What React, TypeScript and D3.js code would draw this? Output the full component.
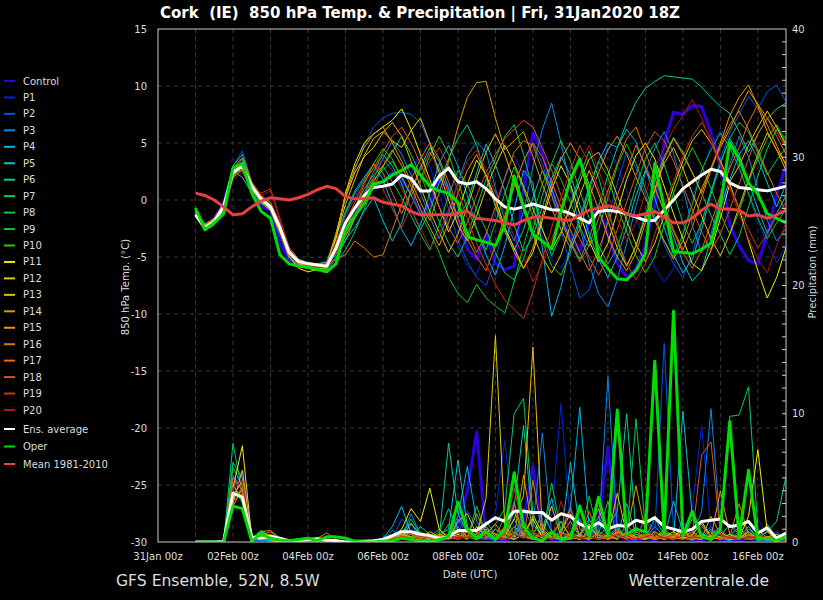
import React from "react";
import * as d3 from "d3";

// GFS ensemble plume for Cork: 850 hPa temperature (left axis) and 6-hourly precipitation (right axis)
const W = 823;
const H = 600;
const PLOT = { left: 158, right: 786, top: 29, bottom: 542 };

const axisStart = new Date(Date.UTC(2020, 0, 31, 0));
const axisEnd = new Date(Date.UTC(2020, 1, 16, 18));
const firstStep = Date.UTC(2020, 1, 1, 0);
const STEP_MS = 6 * 3600 * 1000;

const memberNames = ["Control", "P1", "P2", "P3", "P4", "P5", "P6", "P7", "P8", "P9", "P10",
  "P11", "P12", "P13", "P14", "P15", "P16", "P17", "P18", "P19", "P20"];
const memberColors = ["#2e00e0", "#0022dd", "#0052ee", "#0a88e8", "#00b4ee", "#00c4cc", "#00cc99",
  "#00cc66", "#00cc44", "#00cc22", "#22cc00", "#eeee00", "#e2cc00", "#eebb00", "#d99a00",
  "#f29400", "#dd7700", "#ee6a00", "#dd5522", "#c83218", "#b41414"];
const avgColor = "#ffffff";
const operColor = "#00dd00";
const meanColor = "#e84040";

const tempTicks = [-30, -25, -20, -15, -10, -5, 0, 5, 10, 15];
const precipTicks = [0, 10, 20, 30, 40];

// 850 hPa temperature (°C), 6-hourly from 01Feb 00z
const tempControl = [
  -1.0, -2.4, -1.6, -0.3, 2.6, 3.5, 1.0, -0.6, -0.9, -3.8, -5.3, -5.6, -5.7, -5.9, -6.0, -4.0,
  -2.0, -0.8, 0.5, 1.3, 1.6, 2.4, 1.8, 0.6, -1.2, -0.4, 2.0, 1.2, -2.0, -4.3, -5.2, -3.0,
  -5.6, -6.1, -5.8, 1.0, 5.9, 4.2, 1.0, -1.5, -3.2, -4.5, -2.0, -0.5, -3.0, -5.5, -6.8, -6.0,
  -4.0, -0.5, 5.0, 7.7, 7.5, 8.3, 8.2, 5.9, 3.4, -2.2, -4.0, -5.3, -5.6, -3.0, 0.5, 3.0];
const tempP1 = [
  -1.1, -2.2, -1.7, -0.4, 2.7, 3.4, 1.4, 0.0, -0.8, -2.8, -4.9, -5.6, -5.7, -5.9, -5.7, -3.6,
  -1.5, 0.4, 1.6, 2.8, 3.5, 2.6, 1.2, 2.4, 4.1, 3.0, 0.5, -2.2, -4.0, -5.8, -6.5, -4.2,
  -1.0, 1.8, 3.9, 2.2, -0.6, -3.1, -5.2, -6.0, -4.4, -1.8, 0.6, 2.9, 4.6, 3.1, 0.8, -1.7,
  -3.5, -5.9, -7.2, -6.0, -3.1, 0.2, 2.5, 4.8, 6.1, 5.2, 3.0, 0.4, -1.9, -3.8, -5.5, -4.1];
const tempP2 = [
  -1.3, -2.5, -1.8, -0.2, 3.0, 4.3, 1.6, -0.2, -1.0, -3.2, -5.2, -5.7, -5.6, -5.8, -5.5, -3.0,
  0.2, 2.6, 4.8, 6.4, 7.2, 7.6, 7.7, 7.5, 6.8, 4.9, 2.0, -0.8, -3.5, -5.4, -6.8, -7.5,
  -5.2, -2.0, 1.2, 3.5, 5.0, 3.2, 0.4, -2.6, -5.8, -8.6, -7.9, -5.0, -1.6, 1.5, 4.2, 2.8,
  0.5, -1.6, -3.9, -5.6, -6.8, -4.7, -2.0, 0.8, 3.6, 5.9, 7.5, 9.1, 8.0, 9.5, 10.1, 8.6];
const tempP3 = [
  -1.0, -2.3, -2.0, -0.7, 2.2, 3.0, 1.1, 0.3, -0.4, -2.2, -4.5, -5.3, -5.5, -5.6, -5.9, -4.5,
  -2.8, -1.2, 0.5, 1.9, 3.6, 5.2, 4.0, 2.2, 0.6, -1.5, -3.4, -1.2, 1.6, 3.9, 5.1, 4.2,
  1.0, -1.8, -3.6, -1.0, 2.9, 6.2, 8.5, 5.0, 1.2, -2.4, -5.6, -8.2, -9.4, -7.0, -3.8, -0.5,
  2.4, 4.5, 6.0, 4.1, 1.0, -2.2, -4.6, -3.0, 0.2, 3.1, 5.6, 3.8, 0.9, -1.8, -3.6, -2.5];
const tempP4 = [
  -1.4, -2.6, -2.1, -0.8, 2.0, 2.6, 0.8, -0.1, -0.5, -2.0, -4.2, -5.2, -5.5, -5.6, -5.4, -3.2,
  -1.0, 0.8, 2.0, 3.1, 1.8, -0.4, -2.6, -4.0, -2.2, 0.6, 3.2, 4.8, 3.0, 0.4, -2.5, -4.8,
  -6.6, -4.0, -0.8, 2.6, 1.5, -4.2, -10.2, -7.6, -4.0, -1.6, 1.2, 3.4, 5.0, 4.6, 6.2, 5.1,
  2.8, 0.2, -2.4, -4.8, -6.4, -5.2, -2.6, 0.5, 3.2, 5.4, 4.0, 1.6, -0.8, -2.9, -1.2, 0.4];
const tempP5 = [
  -1.2, -2.3, -1.8, -0.5, 2.5, 2.0, 0.6, -0.3, -0.9, -2.6, -4.8, -5.5, -5.7, -5.8, -5.6, -4.8,
  -3.5, -2.4, -1.0, 0.2, -1.8, -3.6, -2.0, 0.8, 2.9, 4.6, 3.4, 1.0, -1.6, -0.2, 2.4, 4.9,
  3.1, 0.8, -2.2, -4.5, -3.2, -0.6, 1.9, 3.8, 2.2, -0.4, -3.0, -5.2, -6.8, -5.0, -2.4, 0.4,
  2.6, 1.2, -1.0, -3.2, -5.5, -7.1, -6.2, -3.4, -0.8, 1.8, 4.0, 5.2, 3.6, 1.5, -0.6, 1.4];
const tempP6 = [
  -0.9, -2.1, -1.6, -0.3, 3.0, 4.0, 1.5, 0.2, -0.5, -2.3, -4.4, -5.3, -5.6, -5.9, -6.0, -5.0,
  -3.6, -1.6, 0.6, 2.5, 4.0, 3.0, 1.4, -0.8, -2.6, -1.0, 1.5, 3.6, 5.4, 6.6, 4.8, 2.0,
  -0.6, -2.8, -4.4, -2.6, 0.2, 2.6, 1.0, -1.4, -3.6, -5.2, -3.4, -0.6, 2.2, 4.6, 6.8, 8.6,
  9.8, 10.4, 10.9, 10.8, 10.7, 10.6, 9.9, 9.0, 8.2, 7.6, 6.0, 4.2, 5.8, 7.1, 8.0, 8.5];
const tempP7 = [
  -1.3, -2.7, -2.2, -0.9, 2.1, 2.8, 1.0, -0.2, -0.7, -2.5, -4.7, -5.6, -5.8, -6.0, -6.2, -5.5,
  -4.4, -2.8, -0.8, 1.2, 2.9, 4.2, 5.6, 4.0, 2.2, 0.2, -1.9, -3.8, -5.0, -3.2, -0.6, 1.8,
  3.6, 5.6, 6.6, 4.0, 0.8, -2.5, -4.9, -3.0, -0.4, 2.1, 4.3, 2.0, -0.9, -3.6, -5.8, -4.0,
  -1.2, 1.6, 3.8, 5.5, 4.2, 2.4, 0.6, -1.4, -3.0, -4.8, -3.2, -0.6, 2.1, 4.5, 6.2, 5.4];
const tempP8 = [
  -1.1, -2.4, -1.8, -0.5, 2.6, 3.3, 1.3, 0.1, -0.6, -2.5, -4.6, -5.4, -5.6, -5.8, -5.9, -4.0,
  -2.2, -0.6, 1.0, 2.2, 3.0, 1.6, 0.2, -1.4, -3.0, -4.4, -2.2, 0.4, 2.6, 1.4, -0.9, -2.6,
  -4.6, -6.4, -7.0, -5.2, -2.6, 0.4, 3.2, 5.2, 3.4, 0.8, -1.6, -4.0, -5.6, -4.2, -1.5, 1.2,
  3.6, 5.0, 3.1, 0.6, -2.0, -3.8, -2.0, 0.8, 3.2, 5.4, 6.8, 6.0, 4.1, 2.2, 3.5, 4.6];
const tempP9 = [
  -1.2, -2.5, -2.0, -0.6, 2.3, 3.1, 1.2, 0.0, -0.7, -2.6, -4.8, -5.5, -5.7, -5.9, -6.1, -5.2,
  -3.0, -1.4, 0.2, 1.8, 2.6, 3.4, 2.0, 0.4, -1.2, -2.8, -4.6, -6.8, -8.2, -9.0, -7.4, -8.6,
  -9.3, -9.9, -7.2, -4.0, -1.2, 1.4, 3.2, 1.8, -0.2, -2.4, -4.1, -2.6, 0.2, 3.0, 4.9, 3.2,
  1.0, -1.4, -3.6, -5.0, -3.0, -0.4, 2.6, 4.4, 5.9, 4.6, 2.8, 0.6, -1.6, -3.4, -2.0, -0.8];
const tempP10 = [
  -1.0, -2.2, -1.7, -0.4, 2.8, 3.6, 1.5, 0.3, -0.4, -2.2, -4.4, -5.3, -5.6, -5.7, -5.8, -3.8,
  -1.2, 0.6, 1.8, 3.2, 4.5, 3.6, 2.0, 0.4, 1.8, 3.9, 5.6, 4.0, 1.6, -0.8, -2.6, -4.4,
  -2.0, 0.6, 2.9, 1.0, -1.5, -3.6, -5.8, -6.6, -4.6, -2.0, 0.9, 3.4, 2.0, -0.6, -2.8, -4.9,
  -6.4, -5.0, -2.2, 0.6, 2.8, 4.6, 3.0, 1.0, -1.2, -3.0, -1.0, 1.6, 3.6, 5.4, 6.6, 5.0];
const tempP11 = [
  -1.3, -2.6, -2.0, -0.6, 2.4, 3.2, 1.0, -0.1, -0.8, -2.8, -5.0, -6.0, -6.3, -6.1, -5.8, -3.4,
  0.6, 3.2, 5.0, 5.8, 6.4, 7.0, 8.0, 6.2, 4.0, 1.8, -0.6, -2.8, -1.0, 1.4, 3.5, 2.2,
  0.1, -2.4, -4.2, -6.0, -4.6, -1.8, 0.9, 3.0, 1.4, -1.2, -3.6, -5.4, -3.8, -1.0, 1.8, 3.9,
  5.0, 3.6, 1.2, -1.2, -3.4, -5.6, -6.2, -4.4, -1.6, 1.4, -0.8, -3.6, -6.2, -8.6, -6.8, -4.2];
const tempP12 = [
  -1.2, -2.4, -1.9, -0.7, 2.2, 2.9, 1.3, 0.2, -0.6, -2.4, -4.6, -5.5, -5.8, -6.0, -5.9, -3.2,
  -0.4, 1.8, 3.9, 5.4, 6.0, 5.2, 4.6, 6.1, 7.2, 5.0, 2.4, 0.0, -2.2, -3.6, -1.4, 1.0,
  3.0, 4.8, 3.2, 1.2, -0.8, -2.6, -4.4, -2.8, -0.6, 1.6, 3.6, 4.2, 2.6, 0.4, -1.8, -3.9,
  -5.4, -3.8, -1.4, 1.2, 3.4, 5.2, 6.2, 5.0, 3.4, 1.6, 3.0, 4.8, 6.4, 7.8, 6.4, 4.8];
const tempP13 = [
  -1.1, -2.3, -1.7, -0.5, 2.5, 3.1, 1.1, 0.0, -0.7, -2.6, -4.7, -5.6, -5.9, -5.9, -5.7, -2.9,
  0.2, 2.4, 3.8, 4.6, 5.9, 6.8, 5.6, 3.4, 1.2, -1.0, -2.8, -4.6, -3.0, -0.6, 1.9, 4.2,
  5.8, 4.0, 1.6, -0.8, -3.0, -5.0, -6.4, -4.8, -2.2, 0.4, 2.6, 0.6, -1.8, -4.2, -5.8, -4.0,
  -1.6, 1.0, 3.2, 4.6, 2.8, 0.6, -1.4, -3.4, -4.9, -3.0, -0.6, 1.8, 4.0, 5.9, 4.4, 2.6];
const tempP14 = [
  -1.4, -2.7, -2.1, -0.8, 2.0, 2.7, 0.9, -0.2, -0.9, -2.9, -5.0, -5.8, -6.0, -6.2, -6.0, -3.0,
  0.4, 2.8, 4.6, 5.8, 6.4, 5.0, 3.4, 1.6, -0.2, -1.8, 0.6, 3.4, 6.4, 9.0, 10.3, 10.4,
  7.2, 4.4, 5.2, 6.0, 3.8, 1.4, -0.8, -2.6, -4.2, -2.6, 0.2, 2.4, 4.4, 5.6, 4.0, 2.0,
  0.2, -1.8, -3.6, -5.2, -3.6, -1.2, 1.0, 2.8, 4.6, 6.2, 8.0, 9.6, 8.4, 6.6, 4.8, 3.0];
const tempP15 = [
  -1.2, -2.5, -1.8, -0.5, 2.6, 3.3, 1.2, 0.1, -0.5, -2.3, -4.5, -5.4, -5.6, -5.7, -5.8, -4.6,
  -3.2, -1.6, 0.2, 1.6, 3.0, 4.4, 3.0, 1.2, -0.8, -2.4, -4.0, -2.0, 0.6, 2.6, 4.0, 2.2,
  -0.4, -2.6, -4.6, -6.0, -4.2, -1.4, 1.4, 3.6, 5.0, 3.6, 1.4, -0.8, -3.2, -5.0, -6.2, -4.6,
  -2.0, 0.8, 3.6, 5.4, 4.0, 2.4, 0.6, 2.8, 5.0, 7.4, 9.0, 10.1, 8.2, 6.0, 4.4, 3.2];
const tempP16 = [
  -1.0, -2.2, -1.6, -0.3, 2.8, 3.7, 1.6, 0.4, -0.2, -2.0, -4.2, -5.2, -5.5, -5.6, -5.5, -5.2,
  -4.8, -3.6, -4.2, -5.0, -4.8, -2.6, -0.4, 1.8, 3.6, 5.0, 3.6, 1.6, -0.6, -2.8, -4.6, -3.0,
  -0.6, 2.0, 4.2, 5.2, 4.8, 2.6, 0.4, -1.8, -3.8, -5.4, -4.0, -1.6, 0.8, 3.2, 5.4, 6.4,
  4.2, 2.0, -0.4, -2.6, -4.4, -2.4, 0.2, 2.6, 4.8, 6.6, 7.8, 6.2, 4.4, 2.4, 0.6, -1.0];
const tempP17 = [
  -1.3, -2.6, -2.0, -0.6, 2.3, 3.0, 1.0, -0.1, -0.7, -2.7, -4.9, -5.7, -5.8, -5.9, -5.9, -4.4,
  -2.6, -0.8, 1.4, 3.2, 2.4, 0.6, -1.2, 0.8, 2.6, 4.2, 2.8, 0.6, -1.6, -3.4, -5.0, -6.2,
  -4.0, -1.4, 1.2, 3.4, 5.0, 3.8, 1.6, -0.6, -2.6, -4.6, -6.2, -4.4, -2.0, 0.4, 2.6, 4.8,
  3.0, 1.0, -1.0, -2.8, -4.6, -6.0, -4.4, -2.0, 0.4, 2.8, 4.6, 6.8, 8.4, 7.2, 5.6, 4.0];
const tempP18 = [
  -1.1, -2.3, -1.8, -0.5, 2.5, 3.2, 1.3, 0.3, -0.2, -2.1, -4.4, -5.4, -5.7, -5.8, -5.6, -3.8,
  -2.0, -0.2, 1.6, 2.8, 4.2, 5.6, 6.4, 5.0, 3.2, 1.4, -0.6, -2.4, -3.8, -2.0, 0.4, 2.4,
  4.0, 5.4, 6.2, 7.0, 6.4, 4.6, 2.6, 0.4, -1.8, -3.4, -5.0, -6.6, -5.0, -2.6, -0.2, 2.2,
  4.6, 6.0, 5.2, 3.4, 1.2, -0.8, -2.8, -4.4, -3.0, -0.8, 1.4, 3.6, 5.8, 7.2, 6.0, 4.6];
const tempP19 = [
  -1.2, -2.4, -2.0, -0.8, 2.1, 2.6, 1.2, 0.6, 1.0, -1.6, -4.2, -5.4, -5.8, -6.0, -5.8, -4.6,
  -3.0, -1.4, 0.6, 2.0, 1.0, -0.8, -2.4, -0.6, 1.6, 3.4, 4.6, 3.0, 0.8, -1.6, -3.8, -5.6,
  -7.4, -8.8, -9.6, -10.4, -8.0, -5.2, -2.4, 0.2, 2.6, 4.8, 3.2, 1.0, -1.2, -3.4, -5.6, -7.0,
  -5.6, -3.0, -0.6, 1.6, 3.8, 5.6, 6.8, 5.4, 3.2, 1.2, -0.8, -2.6, -4.2, -3.0, -1.4, -0.2];
const tempP20 = [
  -1.3, -2.5, -2.1, -0.9, 1.8, 2.4, 1.0, 0.4, 0.8, -1.8, -4.4, -5.5, -5.7, -5.9, -5.8, -3.6,
  -1.4, 0.2, 1.4, 2.4, 3.6, 2.6, 1.0, -0.8, -2.4, -4.2, -3.0, -0.8, 1.4, 3.4, 4.4, 2.6,
  0.6, -1.2, -3.2, -5.0, -7.2, -5.6, -3.4, -1.0, 1.4, 3.2, 4.8, 2.6, 0.4, -1.6, -3.6, -2.0,
  0.6, 2.8, 4.6, 6.2, 7.4, 8.8, 7.2, 5.0, 3.0, 1.0, -1.2, -3.4, -5.2, -6.4, -4.0, -2.0];
const tempOper = [
  -0.7, -2.6, -2.0, -1.2, 2.8, 3.2, 0.6, -1.0, -1.6, -4.8, -5.6, -5.8, -5.9, -6.1, -6.3, -5.6,
  -2.6, -1.4, -0.3, 1.4, 1.6, 2.2, 2.6, 3.1, 2.2, 1.2, 0.8, 0.6, -0.2, -3.2, -3.5, -3.7,
  -4.0, -2.2, 2.1, -0.6, -3.0, -3.6, -4.3, -1.0, 1.8, 3.6, 0.6, -5.0, -6.0, -6.9, -7.0, -6.2,
  -4.7, 3.2, -0.6, -4.5, -4.6, -4.7, -4.3, -3.8, -0.5, 5.0, 3.6, 1.5, 0.5, -1.2, -1.6, -2.0];
const tempAverage = [
  -1.3, -2.4, -1.9, -0.6, 2.4, 3.0, 1.2, 0.1, -0.6, -2.4, -4.6, -5.4, -5.6, -5.7, -5.8, -4.2,
  -2.0, -0.7, 0.4, 1.1, 1.2, 1.4, 2.2, 1.9, 0.8, 0.8, 2.1, 2.8, 1.6, 1.4, 1.6, 1.0,
  0.1, -0.6, -0.8, -0.6, -0.35, -0.6, -0.85, -0.9, -1.2, -1.6, -2.0, -1.0, -0.9, -1.0, -1.2, -1.5,
  -1.8, -1.8, -0.9, 0.0, 1.0, 1.6, 2.2, 2.7, 2.5, 1.5, 1.1, 1.0, 0.9, 0.8, 1.0, 1.2];
const tempClimate = [
  0.6, 0.4, 0.0, -0.6, -1.3, -1.2, -0.6, -0.1, 0.2, 0.1, 0.0, 0.2, 0.5, 0.9, 1.2, 1.0,
  0.3, 0.1, 0.1, 0.2, -0.2, -0.35, -0.5, -1.0, -1.3, -1.3, -1.3, -1.3, -1.2, -1.0, -1.6, -1.7,
  -1.8, -2.0, -2.2, -1.8, -1.5, -1.5, -1.6, -1.7, -1.8, -1.3, -0.9, -0.7, -0.5, -0.7, -1.2, -1.4,
  -1.2, -1.0, -1.5, -2.0, -2.0, -1.6, -0.9, -0.35, -0.8, -0.8, -0.9, -1.4, -1.3, -1.6, -1.3, -0.9];

// 6-hourly precipitation (mm)
const precipControl = [
  0, 0, 0, 0, 4.4, 5.4, 0.1, 0.3, 0.1, 0, 0, 0, 0.1, 0.05, 0, 0,
  0, 0, 0, 0, 0, 0.4, 0.8, 0.3, 0.1, 0, 0.2, 0.6, 1.2, 4.0, 8.6, 0.3,
  0.2, 0.1, 0.4, 1.6, 5.9, 0.8, 0.2, 0.1, 0.5, 0.3, 0.2, 1.4, 7.4, 0.6, 0.2, 0.1,
  0.3, 0.1, 0.6, 0.2, 1.0, 0.2, 0.1, 0.5, 0.2, 0.1, 0.1, 0.3, 0.1, 0.2, 0.1, 0.2];
const precipP1 = [
  0, 0, 0, 0, 4.8, 3.6, 0.2, 0.4, 0.1, 0, 0, 0, 0, 0.1, 0, 0,
  0, 0, 0, 0, 0.1, 0.3, 0.6, 1.2, 0.4, 0.2, 0.1, 0.8, 1.6, 0.6, 0.2, 1.4,
  2.2, 7.9, 1.0, 0.4, 0.2, 0.6, 2.0, 10.8, 1.2, 0.3, 0.1, 0.8, 0.4, 2.2, 0.6, 0.2,
  0.5, 1.4, 0.3, 0.2, 0.6, 2.6, 9.1, 0.8, 0.2, 0.1, 0.6, 0.3, 1.8, 0.4, 0.1, 0.2];
const precipP2 = [
  0, 0, 0, 0, 3.8, 4.6, 0.1, 0.2, 0.3, 0.1, 0, 0, 0, 0, 0.1, 0,
  0, 0, 0, 0, 0, 0.2, 1.8, 0.9, 0.2, 0.1, 0.4, 0.2, 0.6, 2.4, 1.2, 0.3,
  0.1, 0.8, 3.2, 0.6, 0.2, 0.1, 0.4, 1.0, 2.8, 0.5, 0.2, 1.6, 0.4, 0.8, 0.3, 0.1,
  2.2, 0.6, 15.5, 0.8, 0.3, 0.1, 0.6, 1.2, 0.4, 0.2, 2.0, 0.6, 0.1, 0.3, 0.8, 0.2];
const precipP3 = [
  0, 0, 0, 0, 5.2, 4.0, 0.2, 0.1, 0.2, 0, 0, 0.1, 0, 0, 0, 0,
  0, 0, 0, 0.1, 0.2, 0.9, 0.4, 2.2, 0.6, 0.3, 0.1, 0.2, 1.8, 0.8, 0.3, 0.2,
  1.0, 0.4, 0.2, 2.6, 1.2, 8.5, 0.6, 0.2, 0.4, 1.8, 0.3, 0.6, 12.9, 1.0, 0.2, 0.6,
  0.3, 1.2, 0.4, 0.2, 1.6, 0.5, 2.4, 10.4, 1.0, 0.3, 0.2, 0.8, 0.4, 0.1, 0.6, 0.3];
const precipP4 = [
  0, 0, 0, 0, 4.0, 3.2, 0.3, 0.2, 0.1, 0.1, 0, 0, 0, 0, 0, 0,
  0, 0, 0, 0, 0.3, 1.2, 2.8, 0.6, 0.2, 0.1, 0.3, 0.6, 2.0, 5.9, 1.6, 0.4,
  0.2, 0.6, 1.8, 0.4, 0.2, 1.0, 3.4, 0.8, 2.6, 10.5, 1.2, 0.3, 0.6, 0.2, 1.4, 0.4,
  0.2, 0.6, 0.3, 3.2, 0.8, 0.2, 0.4, 1.0, 0.3, 0.1, 0.5, 0.2, 0.3, 0.1, 0.2, 0.4];
const precipP5 = [
  0, 0, 0, 0, 3.4, 4.2, 0.2, 0.3, 0.1, 0, 0, 0, 0.1, 0, 0, 0,
  0, 0, 0, 0, 0.1, 0.4, 0.8, 1.5, 0.3, 0.2, 0.6, 1.0, 6.4, 1.2, 0.4, 0.8,
  0.3, 0.2, 1.2, 0.6, 0.4, 2.4, 0.8, 0.3, 6.2, 1.0, 0.4, 0.2, 0.8, 0.5, 3.0, 0.6,
  0.4, 1.8, 0.6, 0.3, 10.2, 2.0, 0.6, 0.3, 0.8, 0.2, 0.4, 1.2, 0.3, 0.2, 0.6, 0.2];
const precipP6 = [
  0, 0, 0, 0, 6.2, 5.0, 0.2, 0.8, 0.4, 0.1, 0, 0, 0, 0.1, 0, 0,
  0, 0, 0, 0, 0, 0.3, 0.6, 0.4, 1.2, 0.6, 0.3, 7.7, 2.2, 0.8, 0.4, 1.6,
  0.6, 0.3, 2.8, 9.1, 1.4, 0.4, 0.2, 0.8, 0.3, 0.6, 1.8, 0.5, 1.2, 2.4, 10.0, 0.8,
  0.3, 0.6, 0.2, 0.4, 1.0, 0.3, 0.6, 0.2, 0.4, 1.4, 0.6, 0.2, 0.3, 0.8, 1.6, 5.1];
const precipP7 = [
  0, 0, 0, 0, 7.7, 3.8, 0.3, 0.9, 0.5, 0.2, 0, 0, 0, 0, 0.1, 0,
  0, 0, 0, 0, 0, 0.2, 0.4, 1.8, 0.6, 0.2, 0.8, 2.6, 1.0, 0.4, 0.2, 0.6,
  1.4, 2.6, 10.0, 11.2, 2.2, 0.6, 0.3, 0.2, 0.8, 0.4, 0.6, 2.0, 0.5, 0.3, 0.6, 1.2,
  0.4, 0.2, 0.6, 0.3, 0.8, 0.4, 0.2, 0.6, 1.2, 9.8, 9.9, 12.1, 1.0, 0.3, 0.4, 0.2];
const precipP8 = [
  0, 0, 0, 0, 5.8, 4.4, 0.2, 0.6, 0.3, 0.1, 0, 0, 0, 0, 0, 0,
  0, 0, 0, 0, 0.1, 0.2, 0.5, 0.3, 0.8, 0.4, 0.2, 1.4, 0.6, 0.3, 2.8, 0.6,
  0.3, 0.8, 0.4, 1.6, 0.6, 0.3, 4.6, 0.8, 0.4, 0.2, 1.0, 0.6, 3.2, 0.4, 0.3, 9.6,
  1.0, 0.4, 0.2, 0.6, 0.3, 1.8, 0.5, 0.2, 0.6, 0.3, 0.8, 0.4, 0.2, 1.4, 0.3, 0.6];
const precipP9 = [
  0, 0, 0, 0, 4.6, 3.0, 0.2, 0.4, 0.2, 0, 0, 0.1, 0, 0, 0, 0,
  0, 0, 0, 0, 0, 0.1, 0.3, 0.6, 0.2, 0.4, 1.0, 0.4, 0.8, 0.3, 0.6, 1.2,
  0.4, 2.0, 0.6, 0.3, 0.8, 1.4, 0.4, 0.2, 0.6, 0.3, 3.6, 0.5, 0.2, 0.8, 0.3, 0.6,
  0.2, 0.4, 0.8, 0.3, 0.6, 0.2, 1.2, 0.4, 0.3, 0.6, 0.2, 1.0, 0.4, 0.2, 0.3, 0.1];
const precipP10 = [
  0, 0, 0, 0, 3.6, 4.0, 0.1, 0.5, 0.3, 0.1, 0, 0, 0, 0, 0, 0.1,
  0, 0, 0, 0, 0, 0.2, 0.8, 0.4, 0.3, 0.6, 0.2, 0.5, 1.2, 0.4, 0.2, 0.8,
  0.3, 0.6, 2.4, 0.5, 0.3, 0.8, 0.4, 1.6, 0.3, 0.5, 0.2, 0.8, 0.4, 1.2, 0.3, 0.2,
  0.6, 0.3, 1.0, 0.4, 0.2, 0.6, 0.3, 0.8, 0.2, 0.4, 1.2, 0.3, 0.6, 0.2, 0.4, 0.3];
const precipP11 = [
  0, 0, 0, 0, 4.2, 7.5, 0.3, 0.7, 0.4, 0.1, 0, 0, 0, 0, 0, 0,
  0, 0, 0, 0, 0.1, 0.4, 1.0, 2.6, 1.6, 4.2, 1.0, 0.3, 0.6, 0.2, 1.2, 0.4,
  0.3, 0.8, 0.2, 0.6, 1.8, 0.4, 0.3, 0.8, 2.2, 0.5, 0.3, 0.6, 0.2, 0.8, 0.4, 0.3,
  0.6, 0.2, 0.4, 0.8, 0.3, 0.5, 1.6, 0.4, 0.2, 0.6, 0.3, 2.0, 7.2, 0.8, 0.3, 0.2];
const precipP12 = [
  0, 0, 0, 0, 3.0, 5.6, 0.2, 0.6, 0.2, 0, 0, 0, 0, 0.1, 0, 0,
  0, 0, 0, 0, 0, 0.3, 0.6, 0.4, 0.2, 0.8, 0.4, 0.2, 1.6, 2.2, 0.6, 3.4,
  16.1, 1.2, 0.4, 0.8, 0.3, 0.6, 2.8, 0.4, 0.2, 0.6, 1.4, 0.3, 0.5, 0.2, 0.8, 0.4,
  0.3, 0.6, 0.2, 0.4, 1.0, 0.3, 0.2, 0.6, 0.4, 0.2, 0.3, 0.8, 0.2, 0.4, 0.6, 0.2];
const precipP13 = [
  0, 0, 0, 0, 3.6, 4.8, 0.2, 0.5, 0.6, 0.2, 0, 0, 0, 0, 0, 0,
  0, 0, 0, 0, 0.1, 0.2, 0.4, 1.4, 0.6, 0.3, 0.2, 0.6, 0.4, 0.8, 0.3, 1.0,
  0.6, 0.4, 1.8, 3.6, 15.2, 1.0, 0.4, 0.2, 0.6, 0.3, 0.8, 0.2, 0.4, 3.8, 0.6, 0.3,
  0.2, 0.8, 0.4, 0.6, 0.3, 0.2, 0.5, 0.4, 0.8, 0.3, 0.2, 0.6, 0.3, 0.4, 0.2, 0.3];
const precipP14 = [
  0, 0, 0, 0, 2.8, 4.2, 0.2, 0.8, 0.9, 0.3, 0, 0, 0, 0, 0, 0,
  0, 0, 0, 0, 0.1, 0.3, 0.6, 0.2, 0.4, 0.2, 0.6, 0.3, 1.0, 0.4, 2.2, 0.6,
  0.3, 1.2, 0.4, 5.2, 0.8, 0.3, 0.6, 1.6, 0.4, 0.2, 0.8, 2.6, 0.5, 0.3, 0.6, 4.4,
  0.8, 0.3, 0.6, 0.2, 0.4, 0.8, 0.3, 2.0, 0.6, 0.4, 0.2, 0.6, 0.3, 0.8, 0.2, 0.4];
const precipP15 = [
  0, 0, 0, 0, 4.4, 3.4, 0.1, 0.4, 0.3, 0.1, 0, 0, 0.1, 0.2, 0.1, 0,
  0, 0, 0, 0, 0, 0.2, 0.4, 0.8, 0.3, 0.2, 0.6, 0.4, 0.2, 0.8, 0.3, 0.6,
  1.4, 0.4, 0.2, 0.6, 2.0, 0.8, 0.3, 0.5, 1.6, 0.4, 0.2, 0.6, 0.3, 1.0, 0.4, 0.2,
  0.6, 0.3, 0.8, 0.4, 0.2, 0.6, 1.4, 0.4, 4.0, 0.6, 0.3, 0.8, 0.2, 0.4, 0.3, 0.2];
const precipP16 = [
  0, 0, 0, 0, 3.2, 3.8, 0.2, 0.5, 0.8, 0.2, 0.1, 0, 0, 0.3, 0.7, 0.2,
  0, 0, 0, 0, 0, 0.3, 0.5, 0.2, 0.6, 0.3, 0.2, 0.4, 0.8, 0.3, 0.6, 1.2,
  0.4, 0.2, 0.8, 0.3, 4.8, 0.6, 0.3, 0.8, 0.4, 0.2, 2.4, 0.5, 0.3, 0.6, 0.2, 0.8,
  0.4, 0.2, 0.6, 0.3, 0.8, 0.4, 0.2, 0.6, 0.3, 0.4, 3.0, 0.6, 0.2, 0.4, 0.3, 0.2];
const precipP17 = [
  0, 0, 0, 0, 5.0, 4.0, 0.3, 0.3, 0.2, 0.1, 0, 0, 0, 0, 0, 0,
  0, 0, 0, 0, 0, 0.2, 0.3, 0.6, 0.2, 0.4, 0.3, 0.6, 0.2, 0.8, 0.4, 0.3,
  1.0, 0.6, 3.0, 0.4, 0.2, 0.6, 0.3, 0.8, 2.6, 0.4, 0.2, 0.6, 0.3, 0.8, 0.4, 0.2,
  0.6, 0.3, 0.4, 0.2, 0.8, 0.3, 0.6, 0.2, 0.4, 0.3, 0.6, 0.2, 0.4, 0.3, 0.2, 0.3];
const precipP18 = [
  0, 0, 0, 0, 4.6, 4.4, 0.2, 0.4, 0.3, 0.1, 0, 0, 0, 0, 0, 0,
  0, 0, 0, 0, 0, 0.1, 0.4, 0.2, 0.6, 0.3, 0.5, 0.2, 0.4, 0.8, 0.3, 0.6,
  0.2, 0.5, 1.2, 0.4, 0.3, 0.6, 0.2, 0.8, 0.4, 1.6, 0.3, 0.6, 0.2, 0.4, 0.8, 0.3,
  0.6, 0.2, 0.4, 0.3, 0.8, 0.4, 6.8, 7.8, 0.6, 0.3, 0.2, 0.5, 0.3, 0.2, 0.4, 0.3];
const precipP19 = [
  0, 0, 0, 0, 3.8, 3.6, 0.2, 0.2, 0.5, 0.2, 0, 0, 0, 0, 0, 0,
  0, 0, 0, 0, 0, 0.2, 0.3, 0.2, 0.4, 0.6, 0.3, 0.2, 0.5, 0.3, 0.8, 0.4,
  0.3, 0.6, 4.2, 0.8, 0.3, 0.5, 0.2, 0.6, 0.4, 0.3, 0.8, 0.2, 0.4, 0.6, 0.3, 0.2,
  1.8, 0.4, 0.3, 0.6, 0.2, 0.4, 0.3, 0.6, 0.2, 0.4, 0.3, 0.2, 0.6, 0.3, 0.2, 0.1];
const precipP20 = [
  0, 0, 0, 0, 4.2, 4.8, 0.2, 0.3, 0.6, 0.2, 0, 0, 0, 0, 0, 0,
  0, 0, 0, 0, 0, 0.2, 0.4, 0.3, 0.2, 0.5, 0.3, 0.6, 0.2, 0.4, 0.3, 0.6,
  0.4, 0.2, 0.6, 0.3, 0.8, 0.4, 0.2, 3.2, 0.6, 0.3, 0.4, 0.2, 0.8, 0.3, 0.5, 0.2,
  0.4, 0.6, 0.3, 0.2, 0.5, 0.3, 0.4, 0.2, 0.6, 0.3, 0.2, 0.4, 0.3, 0.2, 0.3, 0.2];
const precipOper = [
  0, 0, 0, 0, 2.8, 2.6, 0.1, 0.6, 0.3, 0.15, 0.1, 0.2, 0.3, 0.1, 0.4, 0.4,
  0.3, 0.05, 0, 0, 0.05, 0.1, 0.3, 0.2, 0.1, 0, 0.2, 0.4, 3.1, 1.0, 0.3, 0.8,
  0.2, 1.0, 5.4, 1.2, 0.3, 0.1, 0.8, 0.2, 0.3, 2.8, 0.4, 3.5, 0.5, 10.3, 0.6, 1.0,
  0.8, 14.1, 0.6, 18.0, 0.5, 2.4, 0.4, 0.2, 1.0, 9.4, 0.3, 5.6, 0.2, 0.3, 0.1, 0.4];
const precipAverage = [
  0, 0, 0, 0.05, 3.8, 3.5, 0.4, 0.3, 0.45, 0.3, 0.1, 0.1, 0.2, 0.25, 0.15, 0.1,
  0, 0.05, 0.05, 0.1, 0.2, 0.5, 0.8, 0.8, 0.6, 0.5, 0.3, 0.4, 0.9, 0.9, 0.9, 1.4,
  1.9, 1.6, 2.4, 2.4, 2.3, 2.3, 1.7, 2.2, 2.0, 1.4, 1.1, 1.5, 1.0, 1.3, 1.2, 1.7,
  1.5, 1.9, 1.2, 1.0, 0.8, 1.0, 1.6, 1.7, 1.8, 1.2, 1.3, 1.6, 0.7, 1.1, 0.3, 0.7];

const memberTemps = [tempControl, tempP1, tempP2, tempP3, tempP4, tempP5, tempP6, tempP7, tempP8,
  tempP9, tempP10, tempP11, tempP12, tempP13, tempP14, tempP15, tempP16, tempP17, tempP18,
  tempP19, tempP20];
const memberPrecips = [precipControl, precipP1, precipP2, precipP3, precipP4, precipP5, precipP6,
  precipP7, precipP8, precipP9, precipP10, precipP11, precipP12, precipP13, precipP14, precipP15,
  precipP16, precipP17, precipP18, precipP19, precipP20];

const FONT = "DejaVu Sans, Verdana, sans-serif";
const TEXT = "#dddddd";
const GRID = "#3a3a3a";

const stepTime = (i: number) => new Date(firstStep + i * STEP_MS);

export default function App() {
  const x = d3.scaleUtc().domain([axisStart, axisEnd]).range([PLOT.left, PLOT.right]);
  const yT = d3.scaleLinear().domain([-30, 15]).range([PLOT.bottom, PLOT.top]);
  const yP = d3.scaleLinear().domain([0, 40]).range([PLOT.bottom, PLOT.top]);

  const tempLine = d3.line<number>().x((_, i) => x(stepTime(i))).y((d) => yT(d));
  const precipLine = d3.line<number>().x((_, i) => x(stepTime(i))).y((d) => yP(d));

  const days = d3.utcDay.range(axisStart, axisEnd);
  const labelDays = days.filter((_, i) => i % 2 === 0);
  const fmt = d3.utcFormat("%d%b %Hz");
  const minorP = d3.range(1, 40);

  const legend = [
    ...memberNames.map((name, i) => ({ name, color: memberColors[i], y: 81 + i * 16.45 })),
    { name: "Ens. average", color: avgColor, y: 429 },
    { name: "Oper", color: operColor, y: 446.5 },
    { name: "Mean 1981-2010", color: meanColor, y: 464 },
  ];

  return (
    <svg width={W} height={H} style={{ position: "absolute", left: 0, top: 0, display: "block" }}
      fontFamily={FONT}>
      <defs>
        <clipPath id="plot-clip">
          <rect x={PLOT.left} y={PLOT.top} width={PLOT.right - PLOT.left} height={PLOT.bottom - PLOT.top} />
        </clipPath>
      </defs>
      <rect width={W} height={H} fill="#000" />

      {/* grid */}
      <g stroke={GRID} strokeDasharray="4,4" strokeWidth={1}>
        {days.slice(1).map((d) => (
          <line key={+d} x1={x(d)} x2={x(d)} y1={PLOT.top} y2={PLOT.bottom} />
        ))}
        {tempTicks.slice(1, -1).map((t) => (
          <line key={t} x1={PLOT.left} x2={PLOT.right} y1={yT(t)} y2={yT(t)} />
        ))}
      </g>

      <g clipPath="url(#plot-clip)" fill="none" strokeLinejoin="round">
        {/* precipitation plumes */}
        {memberPrecips.map((s, i) => (
          <path key={"p" + i} d={precipLine(s) ?? ""} stroke={memberColors[i]}
            strokeWidth={i === 0 ? 3 : 1} />
        ))}
        {/* temperature plumes */}
        {memberTemps.map((s, i) => (
          <path key={"t" + i} d={tempLine(s) ?? ""} stroke={memberColors[i]}
            strokeWidth={i === 0 ? 3 : 1} />
        ))}
        <path d={precipLine(precipAverage) ?? ""} stroke={avgColor} strokeWidth={3} />
        <path d={tempLine(tempAverage) ?? ""} stroke={avgColor} strokeWidth={3} />
        <path d={precipLine(precipOper) ?? ""} stroke={operColor} strokeWidth={3} />
        <path d={tempLine(tempOper) ?? ""} stroke={operColor} strokeWidth={3} />
        <path d={tempLine(tempClimate) ?? ""} stroke={meanColor} strokeWidth={3} />
      </g>

      {/* frame and right axis minor ticks */}
      <rect x={PLOT.left} y={PLOT.top} width={PLOT.right - PLOT.left} height={PLOT.bottom - PLOT.top}
        fill="none" stroke="#cccccc" strokeWidth={1} />
      <g stroke="#cccccc">
        {minorP.map((p) => (
          <line key={p} x1={PLOT.right - 4} x2={PLOT.right} y1={yP(p)} y2={yP(p)} />
        ))}
      </g>

      {/* left axis */}
      <g fontSize={10} fill={TEXT} textAnchor="end">
        {tempTicks.map((t) => (
          <text key={t} x={147} y={yT(t)} dy="0.35em">{t}</text>
        ))}
      </g>
      <text transform="translate(129,287) rotate(-90)" textAnchor="middle" fontSize={10} fill={TEXT}>
        850 hPa Temp. (°C)
      </text>

      {/* right axis */}
      <g fontSize={10} fill={TEXT} textAnchor="start">
        {precipTicks.map((p) => (
          <text key={p} x={792} y={yP(p)} dy="0.35em">{p}</text>
        ))}
      </g>
      <text transform="translate(816,272) rotate(-90)" textAnchor="middle" fontSize={10} fill={TEXT}>
        Precipitation (mm)
      </text>

      {/* time axis */}
      <g fontSize={10} fill={TEXT} textAnchor="middle">
        {labelDays.map((d) => (
          <text key={+d} x={x(d)} y={560}>{fmt(d)}</text>
        ))}
      </g>
      <text x={470} y={578} textAnchor="middle" fontSize={10} fill={TEXT}>Date (UTC)</text>

      {/* title and footer */}
      <text x={420} y={18} textAnchor="middle" fontSize={15} fontWeight="bold" fill="#ffffff"
        style={{ whiteSpace: "pre" }}>
        {"Cork  (IE)  850 hPa Temp. & Precipitation | Fri, 31Jan2020 18Z"}
      </text>
      <text x={116} y={586} fontSize={15.6} fill={TEXT}>GFS Ensemble, 52N, 8.5W</text>
      <text x={769} y={586} textAnchor="end" fontSize={15.6} fill={TEXT}>Wetterzentrale.de</text>

      {/* legend */}
      <g fontSize={10} fill={TEXT}>
        {legend.map((l) => (
          <g key={l.name}>
            <line x1={4} x2={15} y1={l.y} y2={l.y} stroke={l.color} strokeWidth={2} />
            <text x={23} y={l.y} dy="0.35em">{l.name}</text>
          </g>
        ))}
      </g>
    </svg>
  );
}
